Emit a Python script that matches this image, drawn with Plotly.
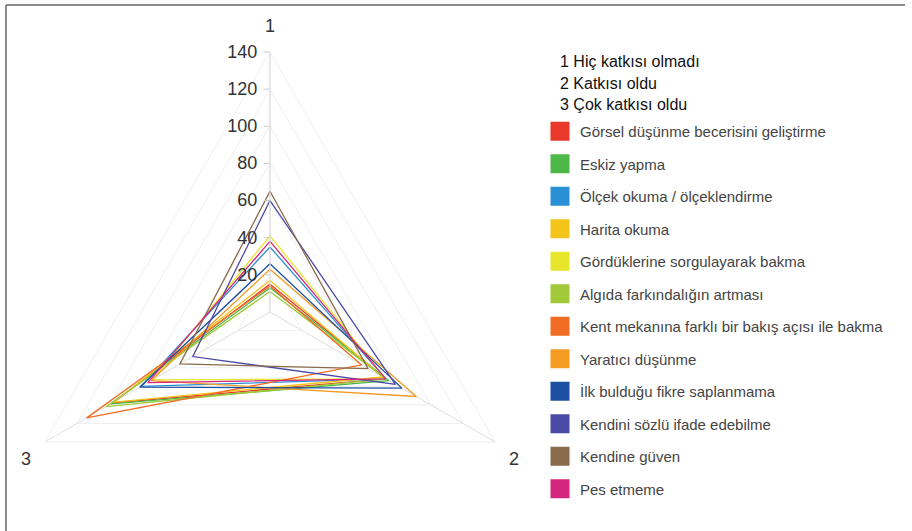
import plotly.graph_objects as go

categories = ["1", "2", "3"]
skills = [
    "Görsel düşünme becerisini geliştirme",
    "Eskiz yapma",
    "Ölçek okuma / ölçeklendirme",
    "Harita okuma",
    "Gördüklerine sorgulayarak bakma",
    "Algıda farkındalığın artması",
    "Kent mekanına farklı bir bakış açısı ile bakma",
    "Yaratıcı düşünme",
    "İlk bulduğu fikre saplanmama",
    "Kendini sözlü ifade edebilme",
    "Kendine güven",
    "Pes etmeme",
]
hic_katkisi_olmadi = [15, 13, 35, 17, 41, 11, 14, 23, 26, 60, 65, 38]
katkisi_oldu = [72, 74, 72, 70, 72, 72, 57, 91, 82, 78, 61, 72]
cok_katkisi_oldu = [98, 99, 80, 97, 73, 102, 114, 74, 81, 48, 56, 76]
colors = ["#e8392b", "#4db848", "#2a90d6", "#f4c41a", "#e8e62c", "#a2c93a",
          "#f26c24", "#f39b22", "#1d4fa3", "#4b4aa6", "#8a6b4b", "#d4267e"]
header_lines = ["1 Hiç katkısı olmadı", "2 Katkısı oldu", "3 Çok katkısı oldu"]

W = 912
H = 580  # page is taller than the 531 px window; only the top 531 px are shown
FONT = "Liberation Sans, Arial, sans-serif"

fig = go.Figure()
for i, name in enumerate(skills):
    r = [hic_katkisi_olmadi[i], katkisi_oldu[i], cok_katkisi_oldu[i]]
    fig.add_trace(go.Scatterpolar(
        r=r + [r[0]], theta=categories + [categories[0]],
        mode="lines", line=dict(color=colors[i], width=1.3),
        name=name, legendgroup=name, showlegend=False,
    ))
for i, name in enumerate(skills):
    fig.add_trace(go.Scatterpolar(
        r=[None], theta=[None], mode="markers", name=name, legendgroup=name,
        marker=dict(symbol="square", size=16, color=colors[i],
                    line=dict(color=colors[i], width=3)),
        showlegend=True,
    ))

annotations = []
for k, t in enumerate(header_lines):
    annotations.append(dict(
        text=t, x=558 / W, y=(H - (62 + 21.5 * k)) / H, xref="paper", yref="paper",
        xanchor="left", yanchor="middle", showarrow=False,
        font=dict(family=FONT, size=16, color="#111"),
    ))

fig.update_layout(
    width=W, height=H,
    margin=dict(l=0, r=0, t=0, b=0),
    paper_bgcolor="white",
    font=dict(family=FONT),
    polar=dict(
        domain=dict(x=[10 / W, 530 / W], y=[(H - 572) / H, (H - 52) / H]),
        gridshape="linear",
        bgcolor="white",
        radialaxis=dict(
            range=[0, 140], tickvals=[20, 40, 60, 80, 100, 120, 140],
            angle=90, side="counterclockwise", tickangle=90,
            tickfont=dict(family=FONT, size=18, color="#333"),
            ticks="outside", ticklen=6, tickcolor="#cccccc",
            showline=True, linecolor="#dddddd", linewidth=1,
            gridcolor="#eeeeee", gridwidth=1,
        ),
        angularaxis=dict(
            rotation=90, direction="clockwise",
            categoryorder="array", categoryarray=categories,
            tickfont=dict(family=FONT, size=18, color="#333"),
            ticks="outside", ticklen=12, tickcolor="rgba(0,0,0,0)",
            showline=True, linecolor="#eeeeee",
            gridcolor="#dddddd",
        ),
    ),
    legend=dict(
        x=540 / W, xanchor="left", y=(H - 115) / H, yanchor="top",
        font=dict(family=FONT, size=15, color="#444"),
        traceorder="grouped", tracegroupgap=10,
        bgcolor="rgba(0,0,0,0)",
    ),
    annotations=annotations,
    shapes=[
        dict(type="line", xref="paper", yref="paper", x0=6 / W, x1=905 / W,
             y0=(H - 5) / H, y1=(H - 5) / H, line=dict(color="#666", width=1.5)),
        dict(type="line", xref="paper", yref="paper", x0=6 / W, x1=6 / W,
             y0=0, y1=(H - 5) / H, line=dict(color="#666", width=1.5)),
    ],
)

fig.write_html(
    "out.html",
    config={"displayModeBar": False},
    post_script="document.body.style.margin='0px';document.body.style.overflow='hidden';",
)
